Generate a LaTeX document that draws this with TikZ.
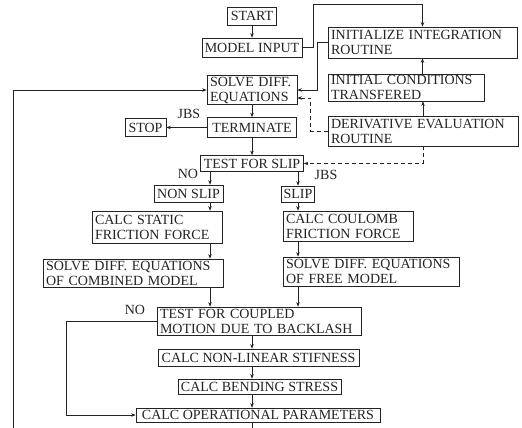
\documentclass[tikz,border=0pt]{standalone}
\usepackage{fontspec}
\setmainfont{Liberation Serif}
\usetikzlibrary{arrows.meta}
\definecolor{inkGray}{RGB}{35,35,35}

\begin{document}
\begin{tikzpicture}[x=1pt, y=-1pt, >={Stealth[length=4.5pt,width=3.5pt]},
    box/.style={draw=inkGray, line width=0.7pt, inner xsep=2pt, inner ysep=1pt, text=inkGray, font=\fontsize{14}{15}\selectfont},
    mbox/.style={box, inner xsep=3pt, align=left},
    lbl/.style={inner sep=0pt, text=inkGray, font=\fontsize{14}{15}\selectfont},
    flow/.style={->, line width=0.6pt, inkGray}]
    \useasboundingbox (0,0) rectangle (522,428);
    \clip (0,0) rectangle (522,428);

    % Start and input
    \node[box, minimum width=49pt, minimum height=18pt] (start) at (252,16) {START};
    \node[box, minimum width=100pt, minimum height=19pt] (minp) at (252,47.5) {MODEL INPUT};

    % Integration routines
    \node[mbox, text width=183pt, minimum height=31pt] (init) at (422.5,42.5) {INITIALIZE INTEGRATION\\ROUTINE};
    \node[mbox, text width=150pt, minimum height=27pt] (initc) at (406,87.5) {INITIAL CONDITIONS\\TRANSFERED};
    \node[mbox, text width=184pt, minimum height=30pt] (deriv) at (423,131) {DERIVATIVE EVALUATION\\ROUTINE};

    % Main loop
    \node[mbox, text width=84pt, minimum height=26pt] (solve) at (252,90) {SOLVE DIFF.\\EQUATIONS};
    \node[box, minimum width=89pt, minimum height=20pt] (term) at (252,127.5) {TERMINATE};
    \node[box, minimum width=41pt, minimum height=18pt] (stop) at (145.5,127.5) {STOP};
    \node[box, minimum width=103pt, minimum height=16pt] (tslip) at (252,163.5) {TEST FOR SLIP};

    % Slip branches
    \node[box, minimum width=69pt, minimum height=17pt] (nslip) at (188.5,193.5) {NON SLIP};
    \node[box, minimum width=31pt, minimum height=16pt] (slip) at (298,194) {SLIP};
    \node[mbox, text width=124pt, minimum height=32pt] (stat) at (157,227) {CALC STATIC\\FRICTION FORCE};
    \node[mbox, text width=124pt, minimum height=30pt] (coul) at (348,226) {CALC COULOMB\\FRICTION FORCE};
    \node[mbox, text width=174pt, minimum height=28pt] (comb) at (133,273) {SOLVE DIFF. EQUATIONS\\OF COMBINED MODEL};
    \node[mbox, text width=170pt, minimum height=29pt] (free) at (371,271.5) {SOLVE DIFF. EQUATIONS\\OF FREE MODEL};

    % Backlash and output
    \node[mbox, text width=198pt, minimum height=28pt] (coup) at (259,321) {TEST FOR COUPLED\\MOTION DUE TO BACKLASH};
    \node[box, minimum width=201pt, minimum height=17pt] (stiff) at (258.5,357.5) {CALC NON-LINEAR STIFNESS};
    \node[box, minimum width=163pt, minimum height=15pt] (bend) at (259.5,386.5) {CALC BENDING STRESS};
    \node[box, minimum width=244pt, minimum height=14pt] (opr) at (258,415) {CALC OPERATIONAL PARAMETERS};

    % Labels
    \node[lbl] (jbsA) at (189,114) {JBS};
    \node[lbl] (noA) at (188,173.5) {NO};
    \node[lbl] (jbsB) at (326,175) {JBS};
    \node[lbl] (noB) at (135,309.5) {NO};

    \coordinate (noX) at (210,0);
    \coordinate (yesX) at (298,0);

    % Arrows
    \draw[flow] (start) -- (minp);
    \draw[flow] (minp.east) -- ++(11,0) |- ([yshift=22pt]init.north) -- (init.north);
    \draw[flow] (init.west) -- ++(-10,0) |- (solve.east);
    \draw[flow] (initc.north -| init.south) -- (init.south);
    \draw[flow] (deriv.north) -- (deriv.north |- initc.south);
    \draw[flow, dash pattern=on 4pt off 3pt] (deriv.west) -- ++(-17,0) |- ([yshift=-8pt]solve.east);
    \draw[flow, dash pattern=on 4pt off 3pt] (deriv.south) |- (tslip.east);
    \draw[flow] (solve) -- (term);
    \draw[flow] (term) -- (stop);
    \draw[flow] (term) -- (tslip);
    \draw[flow] (tslip.south -| noX) -- (nslip.north -| noX);
    \draw[flow] (tslip.south -| yesX) -- (slip.north -| yesX);
    \draw[flow] (nslip.south -| noX) -- (stat.north -| noX);
    \draw[flow] (stat.south -| noX) -- (comb.north -| noX);
    \draw[flow] (comb.south -| noX) -- (coup.north -| noX);
    \draw[flow] (slip.south -| yesX) -- (coul.north -| yesX);
    \draw[flow] (coul.south -| yesX) -- (free.north -| yesX);
    \draw[flow] (free.south -| yesX) -- (coup.north -| yesX);
    \draw[flow] (coup.south -| start) -- (stiff.north -| start);
    \draw[flow] (stiff.south -| start) -- (bend.north -| start);
    \draw[flow] (bend.south -| start) -- (opr.north -| start);
    \draw[flow] (coup.west) -- ++(-90,0) |- (opr.west);
    \draw[flow] (opr.south -| start) -- ++(0,20) -| ([xshift=-193pt]solve.west) -- (solve.west);
\end{tikzpicture}
\end{document}
